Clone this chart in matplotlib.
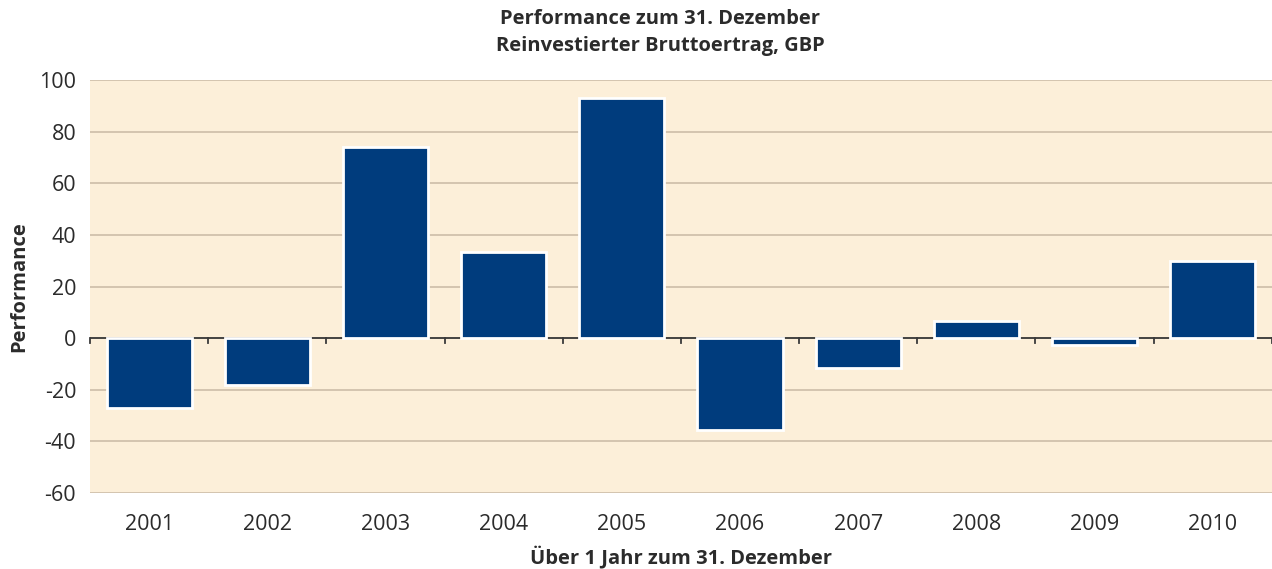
import matplotlib.pyplot as plt
import numpy as np

years = ["2001", "2002", "2003", "2004", "2005", "2006", "2007", "2008", "2009", "2010"]
performance = [-27.2, -18.3, 74.2, 33.5, 93.0, -35.6, -11.4, 6.6, -2.7, 30.0]
y_ticks = [-60, -40, -20, 0, 20, 40, 60, 80, 100]

plt.rcParams["font.family"] = ["Open Sans", "DejaVu Sans"]
plt.rcParams["axes.unicode_minus"] = False
text_color = "#2b2b2b"

fig = plt.figure(figsize=(12.72, 5.69), dpi=100)
ax = fig.add_axes([0.0708, 0.1336, 0.929, 0.7256])
ax.set_facecolor("#fcefd9")

x = np.arange(len(years))
ax.bar(x, performance, width=0.72, color="#003c7d", edgecolor="white", linewidth=2, zorder=3)

ax.set_xlim(-0.5, len(years) - 0.5)
ax.set_ylim(-60, 100)
ax.set_yticks(y_ticks)
ax.yaxis.grid(True, color="#c9b9a4", linewidth=1.1, zorder=0)
ax.set_axisbelow(True)
ax.axhline(0, color="#3a3a3a", linewidth=1.3, zorder=2)

# small tick marks on the zero line between the categories
for b in np.arange(-0.5, len(years), 1.0):
    ax.plot([b, b], [0, -1.8], color="#3a3a3a", linewidth=1.3, zorder=2, clip_on=False)

ax.set_xticks(x)
ax.set_xticklabels(years)
ax.tick_params(axis="both", length=0, labelsize=15.5, colors=text_color)
ax.tick_params(axis="x", pad=15)
ax.tick_params(axis="y", pad=10)
for spine in ax.spines.values():
    spine.set_visible(False)

ax.set_xlabel("Über 1 Jahr zum 31. Dezember", fontsize=14.5, fontweight="bold", color=text_color, labelpad=8)
ax.set_ylabel("Performance", fontsize=14.5, fontweight="bold", color=text_color, labelpad=7)
fig.text(0.519, 0.985, "Performance zum 31. Dezember\nReinvestierter Bruttoertrag, GBP",
         ha="center", va="top", fontsize=14.5, fontweight="bold", color=text_color, linespacing=1.5)

fig.savefig("out.png", dpi=100)
